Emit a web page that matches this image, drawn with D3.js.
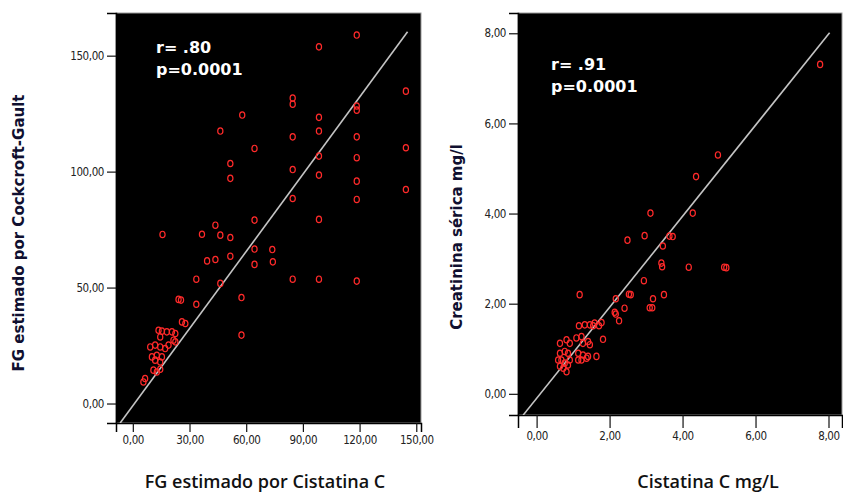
<!DOCTYPE html>
<html lang="es">
<head>
<meta charset="UTF-8">
<title>FG Cockcroft-Gault vs Cistatina C</title>
<script src="https://d3js.org/d3.v7.min.js"></script>
<style>
  body { margin: 0; background: #fff; }
  .tick-label { font-family: "DejaVu Sans Condensed", "Liberation Sans Narrow", Arial, sans-serif; font-size: 11.5px; fill: #222; letter-spacing: -0.4px; }
  .stat { font-family: "DejaVu Sans", Verdana, sans-serif; font-weight: bold; font-size: 16px; fill: #fff; }
  .ytitle { font-family: "DejaVu Sans", Verdana, sans-serif; font-weight: bold; font-size: 15px; fill: #101030; }
  .xtitle { font-family: "Open Sans", sans-serif; font-weight: 600; font-size: 18px; fill: #111; }
</style>
</head>
<body>
<div id="chart"></div>
<script>
// left panel: FG Cockcroft-Gault (y) vs FG Cistatina C (x)
const leftX = [118.5, 98.5, 144.5, 84.6, 84.6, 57.9, 118.5, 118.5, 98.5, 46.3, 98.5, 84.6, 118.5,
  64.4, 144.5, 118.5, 98.5, 51.6, 51.6, 84.6, 98.5, 118.5, 144.5, 84.6, 118.5,
  64.4, 98.5, 43.7, 15.7, 36.6, 46.3, 51.6, 64.4, 73.8, 51.6, 39.3, 43.7, 64.4, 74.1,
  33.6, 46.3, 84.6, 98.5, 118.5, 24.2, 25.5, 33.6, 57.5, 26.0, 27.8, 57.5,
  13.6, 15.4, 18.0, 20.7, 22.5, 14.5, 21.5, 22.5, 9.2, 11.8, 14.5, 17.1, 18.9,
  10.1, 12.7, 15.4, 11.8, 14.5, 10.9, 12.7, 14.5, 6.5, 5.6];
const leftY = [158.9, 153.8, 134.7, 131.7, 129.1, 124.4, 128.3, 126.5, 123.4, 117.5, 117.5, 115.0, 115.0,
  110.0, 110.3, 106.0, 106.7, 103.5, 97.1, 100.9, 98.5, 95.9, 92.3, 88.4, 88.0,
  79.1, 79.4, 76.9, 72.9, 73.0, 72.6, 71.6, 66.6, 66.4, 63.5, 61.5, 62.1, 60.0, 61.1,
  53.6, 51.8, 53.6, 53.6, 52.8, 44.9, 44.6, 42.8, 45.7, 35.2, 34.5, 29.5,
  31.6, 31.2, 30.9, 30.9, 30.2, 28.7, 27.3, 26.6, 24.4, 25.2, 24.4, 23.7, 25.2,
  20.1, 20.8, 20.1, 18.7, 17.9, 14.4, 13.6, 14.8, 10.8, 9.3];

// right panel: Creatinina sérica (y) vs Cistatina C (x)
const rightX = [7.77, 4.97, 4.37, 3.12, 4.28, 2.96, 2.49, 3.64, 3.73, 3.46, 3.42, 3.44, 4.17, 5.14, 5.20,
  2.94, 1.18, 2.17, 2.58, 2.53, 3.49, 3.19, 3.10, 3.17, 2.41, 2.14, 2.17, 2.26, 1.78,
  1.16, 1.32, 1.55, 1.71, 1.82, 1.46, 1.59,
  0.64, 0.82, 0.91, 1.09, 1.23, 1.27, 1.41, 1.46, 0.64, 0.77, 0.86, 1.14, 1.27, 1.41, 1.64,
  0.59, 0.68, 0.77, 0.91, 1.14, 1.23, 1.37, 0.64, 0.73, 0.86, 0.82];
const rightY = [7.31, 5.30, 4.82, 4.01, 4.01, 3.51, 3.41, 3.50, 3.49, 3.28, 2.90, 2.82, 2.81, 2.81, 2.80,
  2.51, 2.20, 2.11, 2.20, 2.21, 2.20, 2.11, 1.91, 1.91, 1.90, 1.81, 1.77, 1.62, 1.58,
  1.51, 1.53, 1.51, 1.51, 1.21, 1.53, 1.57,
  1.12, 1.20, 1.12, 1.24, 1.27, 1.12, 1.16, 1.09, 0.90, 0.94, 0.90, 0.90, 0.86, 0.83, 0.83,
  0.75, 0.75, 0.68, 0.75, 0.75, 0.75, 0.79, 0.61, 0.57, 0.64, 0.49];

const leftTicksX = [0, 30, 60, 90, 120, 150];
const leftTicksY = [0, 50, 100, 150];
const rightTicksX = [0, 2, 4, 6, 8];
const rightTicksY = [0, 2, 4, 6, 8];

// fit lines: slope, intercept, x extent
const leftFit = [1.109, -0.97];
const leftFitX = [-6.7, 145.4];
const rightFit = [1.01, -0.10];
const rightFitX = [-0.37, 8.03];

const leftStats = ["r= .80", "p=0.0001"];
const rightStats = ["r= .91", "p=0.0001"];

const fmt = d => d3.format(".2f")(d).replace(".", ",");

const svg = d3.select("#chart").append("svg")
  .attr("width", 843)
  .attr("height", 496);

function panel(opt) {
  const x = d3.scaleLinear().domain(opt.xDomain).range([opt.left, opt.right]);
  const y = d3.scaleLinear().domain(opt.yDomain).range([opt.bottom, opt.top]);
  const g = svg.append("g");

  g.append("rect")
    .attr("x", opt.left).attr("y", opt.top)
    .attr("width", opt.right - opt.left).attr("height", opt.bottom - opt.top)
    .attr("fill", "#000").attr("stroke", "#9a9a9a").attr("stroke-width", 1);

  const clipId = "clip" + opt.id;
  g.append("clipPath").attr("id", clipId).append("rect")
    .attr("x", opt.left).attr("y", opt.top)
    .attr("width", opt.right - opt.left).attr("height", opt.bottom - opt.top);

  // axes
  const xAxis = g.append("g")
    .attr("transform", `translate(0,${opt.bottom})`)
    .call(d3.axisBottom(x).tickValues(opt.ticksX).tickSize(opt.xTickLen).tickPadding(4).tickFormat(fmt));
  const yAxis = g.append("g")
    .attr("transform", `translate(${opt.left},0)`)
    .call(d3.axisLeft(y).tickValues(opt.ticksY).tickSize(9).tickPadding(3).tickFormat(fmt));
  [xAxis, yAxis].forEach(a => {
    a.select(".domain").attr("stroke", "#000").attr("stroke-width", 1.5);
    a.selectAll(".tick line").attr("stroke", "#111").attr("stroke-width", 1.2);
    a.selectAll(".tick text").attr("class", "tick-label").attr("fill", null);
  });

  // fit line
  g.append("line")
    .attr("clip-path", `url(#${clipId})`)
    .attr("x1", x(opt.fitX[0])).attr("y1", y(opt.fit[0] * opt.fitX[0] + opt.fit[1]))
    .attr("x2", x(opt.fitX[1])).attr("y2", y(opt.fit[0] * opt.fitX[1] + opt.fit[1]))
    .attr("stroke", "#c4c4c4").attr("stroke-width", 1.6);

  // points
  g.append("g").attr("clip-path", `url(#${clipId})`)
    .selectAll("ellipse")
    .data(opt.xs.map((v, i) => [v, opt.ys[i]]))
    .join("ellipse")
    .attr("cx", d => x(d[0])).attr("cy", d => y(d[1]))
    .attr("rx", 2.6).attr("ry", 3.2)
    .attr("fill", "none").attr("stroke", "#ff2a2a").attr("stroke-width", 1.2);

  // r / p text
  g.selectAll(".stat")
    .data(opt.stats)
    .join("text")
    .attr("class", "stat")
    .attr("x", opt.statX)
    .attr("y", (d, i) => opt.statY + i * 22)
    .text(d => d);

  g.append("text")
    .attr("class", "xtitle")
    .attr("text-anchor", "middle")
    .attr("x", opt.xTitleX).attr("y", 488)
    .text(opt.xTitle);

  g.append("text")
    .attr("class", "ytitle")
    .attr("text-anchor", "middle")
    .attr("transform", `translate(${opt.yTitleX},${opt.yTitleY}) rotate(-90)`)
    .text(opt.yTitle);
}

panel({
  id: "L", left: 116, right: 421, top: 13, bottom: 423,
  xDomain: [-8.9, 152.5], yDomain: [-8.4, 168.4],
  ticksX: leftTicksX, ticksY: leftTicksY, xTickLen: 9,
  xs: leftX, ys: leftY, fit: leftFit, fitX: leftFitX,
  stats: leftStats, statX: 156, statY: 53,
  xTitle: "FG estimado por Cistatina C", xTitleX: 265,
  yTitle: "FG estimado por Cockcroft-Gault", yTitleX: 24, yTitleY: 233
});

panel({
  id: "R", left: 518, right: 842, top: 13, bottom: 415,
  xDomain: [-0.51, 8.37], yDomain: [-0.47, 8.45],
  ticksX: rightTicksX, ticksY: rightTicksY, xTickLen: 13,
  xs: rightX, ys: rightY, fit: rightFit, fitX: rightFitX,
  stats: rightStats, statX: 551, statY: 70,
  xTitle: "Cistatina C mg/L", xTitleX: 708,
  yTitle: "Creatinina sérica mg/l", yTitleX: 462, yTitleY: 237
});
</script>
</body>
</html>
